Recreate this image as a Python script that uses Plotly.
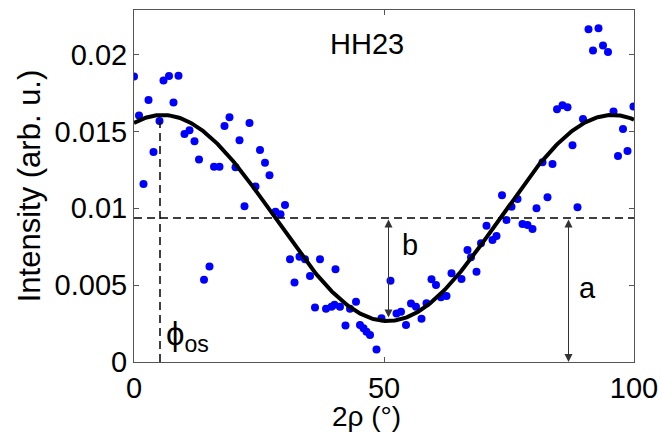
import numpy as np
import plotly.graph_objects as go

# ---- measured data (2rho in degrees, intensity in arb. u.) ----
two_rho = [0.0, 1.0, 1.9, 2.9, 3.9, 5.1, 5.9, 7.0, 7.9, 8.9, 10.1, 11.1, 12.1, 13.0,
           14.0, 15.1, 16.0, 17.1, 18.1, 19.1, 20.3, 21.1, 22.1, 23.1, 24.3, 25.2,
           26.2, 27.1, 28.3, 29.3, 30.2, 31.2, 32.1, 33.1, 34.2, 35.2, 36.2, 37.2,
           38.4, 39.5, 40.1, 40.3, 41.2, 42.3, 43.2, 44.4, 45.2, 45.9, 46.5, 47.2,
           48.5, 49.5, 51.3, 52.5, 53.4, 54.4, 55.4, 56.4, 57.5, 58.5, 59.5, 60.4,
           61.4, 62.5, 63.5, 65.5, 66.7, 67.4, 68.5, 69.4, 70.5, 71.7, 72.5, 73.6,
           74.5, 75.5, 76.7, 77.7, 78.7, 79.7, 80.5, 81.7, 82.7, 83.7, 84.6, 85.7,
           86.7, 87.7, 88.7, 89.8, 90.9, 91.8, 92.9, 93.8, 94.8, 95.9, 96.8, 97.8,
           98.7, 99.9]
intensity = [0.01857, 0.01603, 0.01158, 0.01705, 0.01367, 0.01568, 0.01831, 0.01861,
             0.01688, 0.01863, 0.01484, 0.01508, 0.01436, 0.01317, 0.00535, 0.00622,
             0.01271, 0.01271, 0.01536, 0.01592, 0.01267, 0.01443, 0.01013, 0.01555,
             0.01141, 0.01380, 0.01297, 0.01215, 0.00978, 0.00961, 0.01021, 0.00668,
             0.00518, 0.00685, 0.00668, 0.00559, 0.00355, 0.00668, 0.00347, 0.00359,
             0.00372, 0.00603, 0.00359, 0.00238, 0.00347, 0.00392, 0.00240, 0.00219,
             0.00197, 0.00175, 0.00082, 0.00284, 0.00529, 0.00316, 0.00327, 0.00240,
             0.00381, 0.00359, 0.00281, 0.00382, 0.00538, 0.00501, 0.00421, 0.00429,
             0.00577, 0.00540, 0.00729, 0.00681, 0.00587, 0.00772, 0.00887, 0.00794,
             0.00820, 0.01085, 0.00924, 0.01010, 0.01060, 0.00898, 0.00891, 0.00865,
             0.01000, 0.01300, 0.01072, 0.01288, 0.01645, 0.01670, 0.01658, 0.01410,
             0.01007, 0.01581, 0.02165, 0.02026, 0.02172, 0.02059, 0.02016, 0.01629,
             0.01340, 0.01516, 0.01373, 0.01662]

# ---- cosine fit parameters: I = a + b*cos(2*pi*(x - phase)/period) ----
fit_a = 0.00937
fit_b = 0.0067
fit_phase = 5.7
fit_period = 90.0

phi_os_x = 5.2
phi_os_top = 0.0158
b_arrow_x = 50.9
b_arrow_bottom = 0.0029
a_arrow_x = 86.9

x_ticks = [0, 50, 100]
y_ticks = [0, 0.005, 0.01, 0.015, 0.02]
y_tick_text = ["0", "0.005", "0.01", "0.015", "0.02"]

FONT = "Liberation Sans, Arial, sans-serif"

xf = np.linspace(0, 100, 400)
yf = fit_a + fit_b * np.cos(2 * np.pi * (xf - fit_phase) / fit_period)

fig = go.Figure()
fig.add_trace(go.Scatter(x=two_rho, y=intensity, mode="markers",
                         marker=dict(color="#0000FF", size=8, line=dict(width=0)),
                         showlegend=False))
fig.add_trace(go.Scatter(x=xf, y=yf, mode="lines",
                         line=dict(color="black", width=4), showlegend=False))
fig.add_trace(go.Scatter(x=[0, 100], y=[fit_a, fit_a], mode="lines",
                         line=dict(color="black", width=1.5, dash="8px,5px"),
                         showlegend=False))
fig.add_trace(go.Scatter(x=[phi_os_x, phi_os_x], y=[0, phi_os_top], mode="lines",
                         line=dict(color="black", width=1.5, dash="8px,5px"),
                         showlegend=False))

arrow_common = dict(showarrow=True, text="", axref="x", ayref="y",
                    arrowside="end+start", arrowhead=2, startarrowhead=2,
                    arrowsize=1.6, startarrowsize=1.6, arrowwidth=1,
                    arrowcolor="#333333", standoff=0, startstandoff=0)
fig.add_annotation(x=b_arrow_x, y=b_arrow_bottom, ax=b_arrow_x, ay=fit_a, **arrow_common)
fig.add_annotation(x=a_arrow_x, y=0, ax=a_arrow_x, ay=fit_a, **arrow_common)

fig.add_annotation(x=55.2, y=0.0076, text="b", showarrow=False,
                   font=dict(family=FONT, size=29, color="black"))
fig.add_annotation(x=90.6, y=0.0048, text="a", showarrow=False,
                   font=dict(family=FONT, size=29, color="black"))
fig.add_annotation(x=46.5, y=0.0207, text="HH23", showarrow=False,
                   font=dict(family=FONT, size=29, color="black"))
fig.add_annotation(x=5.9, y=0.0017, text="ϕ<sub>os</sub>", showarrow=False,
                   xanchor="left", yanchor="middle",
                   font=dict(family=FONT, size=33, color="black"))
# x-axis title placed as annotation (slightly left of centre, as in the original)
fig.add_annotation(x=0.464, y=-0.155, xref="paper", yref="paper",
                   text="2ρ (°)", showarrow=False,
                   xanchor="center", yanchor="middle",
                   font=dict(family=FONT, size=28, color="black"))

axis_common = dict(showgrid=False, zeroline=False, showline=True, linecolor="#555555",
                   linewidth=1, mirror="ticks", ticks="inside", ticklen=5,
                   tickcolor="#555555", automargin=False,
                   tickfont=dict(family=FONT, size=29, color="black"))
fig.update_xaxes(range=[0, 100], tickvals=x_ticks, **axis_common)
fig.update_yaxes(range=[0, 0.0229], tickvals=y_ticks, ticktext=y_tick_text,
                 title=dict(text="Intensity (arb. u.)", font=dict(family=FONT, size=31, color="black"),
                            standoff=4),
                 **axis_common)
fig.update_layout(width=662, height=443, margin=dict(l=134, r=28, t=10, b=81),
                  plot_bgcolor="white", paper_bgcolor="white")
fig.write_html("out.html")
